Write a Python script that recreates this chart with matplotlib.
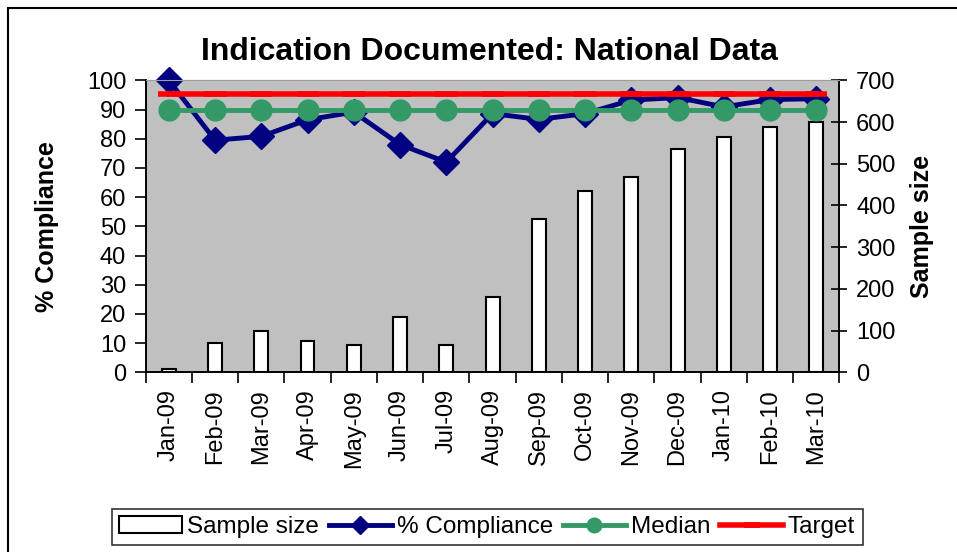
import numpy as np
import matplotlib.pyplot as plt
from matplotlib.patches import Rectangle

plt.rcParams['font.family'] = ['Liberation Sans', 'DejaVu Sans']

months = ["Jan-09", "Feb-09", "Mar-09", "Apr-09", "May-09", "Jun-09", "Jul-09",
          "Aug-09", "Sep-09", "Oct-09", "Nov-09", "Dec-09", "Jan-10", "Feb-10", "Mar-10"]
sample_size = [9, 71, 100, 75, 66, 133, 66, 181, 367, 435, 468, 536, 564, 588, 599]
compliance = [100, 79.5, 80.8, 86.5, 89.1, 78, 72, 88.6, 86.6, 88.6, 93.2, 94.1, 90.9, 93.4, 93.7]
median = [89.8] * len(months)
target = [95.4] * len(months)

x = np.arange(len(months))

fig = plt.figure(figsize=(9.57, 5.52), dpi=100)
ax = fig.add_axes([0.1522, 0.3255, 0.7250, 0.5290])
ax2 = ax.twinx()

# bars on the secondary axis, behind the lines
ax2.patch.set_visible(True)
ax2.set_facecolor("#C0C0C0")
ax2.bar(x, sample_size, width=0.3, color="white", edgecolor="black", linewidth=1.5,
        label="Sample size")
ax2.set_ylim(0, 700)
ax2.set_yticks(range(0, 701, 100))
ax2.tick_params(axis="y", direction="inout", length=12, width=1.2, labelsize=17, pad=6)
ax2.set_ylabel("Sample size", fontsize=18, fontweight="bold", labelpad=10)

ax.set_zorder(ax2.get_zorder() + 1)
ax.patch.set_visible(False)

ax.plot(x, compliance, color="#000080", lw=3.5, marker="D", ms=13, label="% Compliance",
        clip_on=False)
ax.plot(x, median, color="#339966", lw=3.5, marker="o", ms=15, label="Median", clip_on=False)
ax.plot(x, target, color="#FF0000", lw=4, marker="_", ms=16, mew=4, label="Target",
        clip_on=False)

ax.set_xlim(-0.5, len(months) - 0.5)
ax.set_ylim(0, 100)
ax.set_yticks(range(0, 101, 10))
ax.set_xticks(np.arange(-0.5, len(months), 1), minor=False)
ax.set_xticklabels([])
ax.set_xticks(x, minor=True)
ax.set_xticklabels(months, minor=True, rotation=90, fontsize=17)
ax.tick_params(axis="x", which="major", direction="out", length=8, width=1.2)
ax.tick_params(axis="x", which="minor", length=0, pad=12)
ax.tick_params(axis="y", direction="out", length=8, width=1.2, labelsize=17, pad=6)
ax.set_ylabel("% Compliance", fontsize=18, fontweight="bold", labelpad=20)

for a in (ax, ax2):
    a.spines["top"].set_color("#A0A0A0")
    a.spines["left"].set_linewidth(1.2)
    a.spines["bottom"].set_linewidth(1.2)
    a.spines["right"].set_linewidth(1.2)

fig.text(0.511, 0.905, "Indication Documented: National Data", ha="center", va="center",
         fontsize=23, fontweight="bold")

h1, l1 = ax2.get_legend_handles_labels()
h2, l2 = ax.get_legend_handles_labels()
leg = fig.legend(h1 + h2, l1 + l2, loc="center", bbox_to_anchor=(0.509, 0.045), ncol=4,
                 fontsize=17.5, frameon=True, fancybox=False, edgecolor="black",
                 handlelength=2.6, handletextpad=0.2, columnspacing=0.4,
                 borderpad=0.3, borderaxespad=0, markerscale=0.7)
leg.get_frame().set_linewidth(1.2)

# outer chart border
fig.patches.append(Rectangle((8 / 957, -0.05), 1.0, 1 - 8 / 552 + 0.05, transform=fig.transFigure,
                             fill=False, edgecolor="black", linewidth=1.5))

fig.savefig("out.png", dpi=100)
